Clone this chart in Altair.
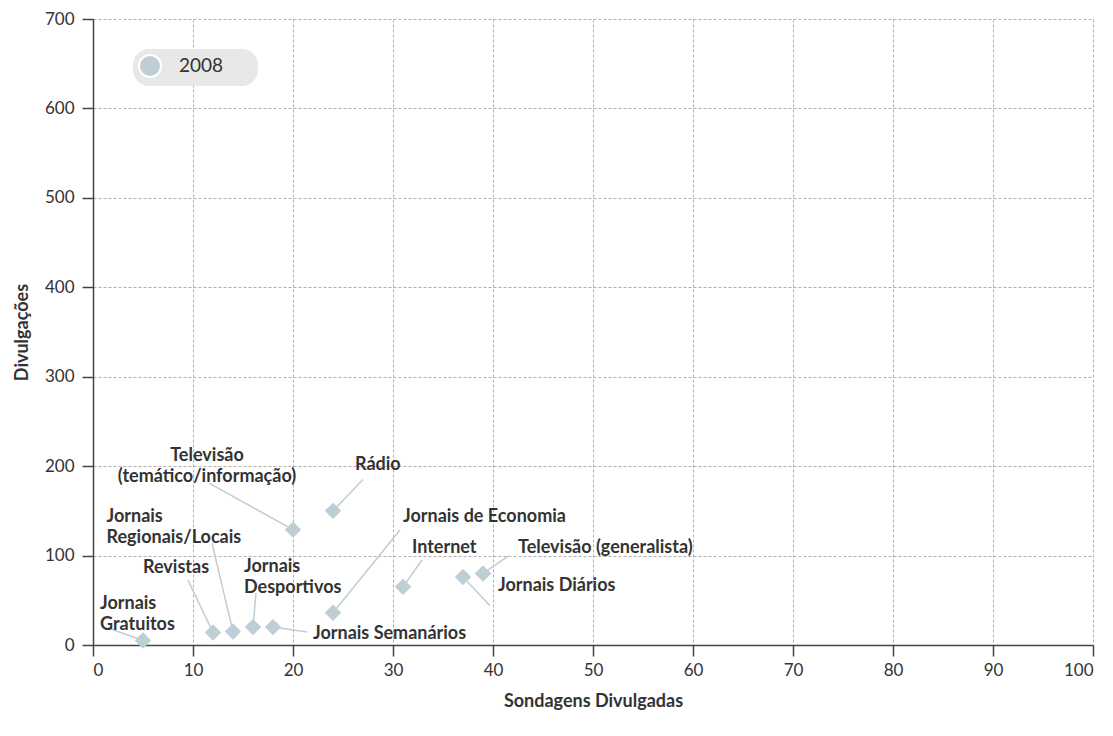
import altair as alt
import pandas as pd

FONT = "Lato, 'Liberation Sans', sans-serif"
TXT = "#333333"
PT = "#bfcdd4"

# Data
categorias = [
    "Jornais Gratuitos", "Revistas", "Jornais Regionais/Locais", "Jornais Desportivos",
    "Jornais Semanários", "Televisão (temático/informação)", "Rádio", "Jornais de Economia",
    "Internet", "Jornais Diários", "Televisão (generalista)",
]
sondagens = [5, 12, 14, 16, 18, 20, 24, 24, 31, 37, 39]
divulgacoes = [5, 14, 15, 20, 20, 129, 150, 36, 65, 76, 80]

# Annotation text and placement (data units)
rotulos = [
    ["Jornais", "Gratuitos"], ["Revistas"], ["Jornais", "Regionais/Locais"],
    ["Jornais", "Desportivos"], ["Jornais Semanários"], ["Televisão", "(temático/informação)"],
    ["Rádio"], ["Jornais de Economia"], ["Internet"], ["Jornais Diários"],
    ["Televisão (generalista)"],
]
alinh = ["left", "left", "left", "left", "left", "center", "left", "left", "left", "left", "left"]
rot_x = [0.7, 5.0, 1.35, 15.1, 22.0, 11.4, 26.2, 31.0, 31.9, 40.5, 42.5]
rot_y = [46, 86, 143.5, 87, 12.6, 211, 201, 143.4, 108, 66, 108]
guia_x = [1.5, 9.5, 11.9, 16.3, 21.4, 11.6, 27.0, 30.7, 32.9, 39.7, 41.6]
guia_y = [19, 72.6, 114, 58, 14.5, 181, 185, 128.5, 95, 44, 100]

df = pd.DataFrame({
    "cat": categorias, "sx": sondagens, "dy": divulgacoes,
    "label": rotulos, "align": alinh, "lx": rot_x, "ly": rot_y,
    "gx": guia_x, "gy": guia_y, "ano": ["2008"] * len(categorias),
})

xscale = alt.Scale(domain=[0, 100], nice=False)
yscale = alt.Scale(domain=[0, 700], nice=False)
xaxis = alt.Axis(title="Sondagens Divulgadas", values=list(range(0, 101, 10)))
yaxis = alt.Axis(title="Divulgações", values=list(range(0, 701, 100)))

base = alt.Chart(df)

guias = base.mark_rule(color=PT, strokeWidth=1.5).encode(
    x=alt.X("gx:Q", scale=xscale, axis=xaxis),
    y=alt.Y("gy:Q", scale=yscale, axis=yaxis),
    x2="sx:Q", y2="dy:Q",
)

# trailing non-breaking spaces widen the pill; the zero-width char stops trimming
NB = "\u00a0" * 6 + "\u200b"

pontos = base.mark_point(shape="diamond", filled=True, size=270, opacity=1).encode(
    x=alt.X("sx:Q", scale=xscale, axis=xaxis),
    y=alt.Y("dy:Q", scale=yscale, axis=yaxis),
    color=alt.Color(
        "ano:N",
        scale=alt.Scale(domain=["2008"], range=[PT]),
        legend=alt.Legend(
            orient="none", legendX=40, legendY=30, title=None,
            symbolType="circle", symbolSize=484, symbolStrokeColor="white",
            symbolStrokeWidth=2, symbolOpacity=1, fillColor="#e8e8e8", cornerRadius=16,
            padding=5, labelFontSize=19, labelFont=FONT, labelColor=TXT,
            labelOffset=17, labelExpr="datum.label + '" + NB + "'",
        ),
    ),
)

def textos(al):
    return base.transform_filter(alt.datum.align == al).mark_text(
        align=al, baseline="middle", lineHeight=21, fontSize=18, fontWeight="bold",
        font=FONT, color=TXT,
    ).encode(
        x=alt.X("lx:Q", scale=xscale, axis=xaxis),
        y=alt.Y("ly:Q", scale=yscale, axis=yaxis),
        text="label:N",
    )

chart = alt.layer(guias, pontos, textos("left"), textos("center")).properties(
    width=1000, height=626,
    autosize=alt.AutoSizeParams(type="none"),
    padding={"left": 85, "top": 11, "right": 12, "bottom": 83},
).configure_view(stroke=None).configure_axis(
    labelFont=FONT, titleFont=FONT, labelFontSize=17, titleFontSize=18,
    labelColor=TXT, titleColor=TXT, titleFontWeight="bold",
    domainColor="#444444", domainWidth=1.5, tickColor="#444444", tickWidth=1.5,
    tickSize=11, gridColor="#b0b0b0", gridDash=[3, 2], gridWidth=1,
).configure_axisX(
    labelPadding=6, titlePadding=14,
).configure_axisY(
    labelPadding=8, titlePadding=13,
)

chart.save("out.html", embed_options={"renderer": "svg", "actions": False})
